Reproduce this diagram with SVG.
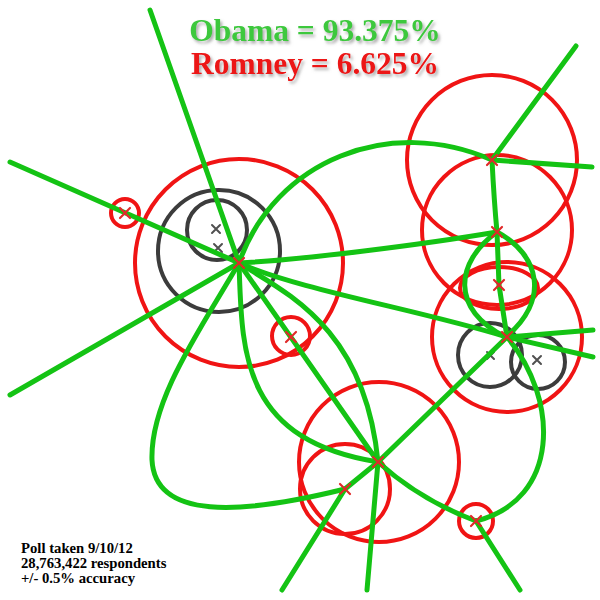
<svg xmlns="http://www.w3.org/2000/svg" width="600" height="600" viewBox="0 0 600 600">
<defs>
<filter id="sh" x="-10%" y="-30%" width="130%" height="180%">
<feDropShadow dx="2" dy="2.5" stdDeviation="1.5" flood-color="#777" flood-opacity="0.6"/>
</filter>
</defs>
<style>
.rc{fill:none;stroke:#f01414;stroke-width:4}
.gc{fill:none;stroke:#3c3c3c;stroke-width:4}
.ln{fill:none;stroke:#14c314;stroke-width:5;stroke-linecap:round}
.rx{stroke:#e02a2a;stroke-width:2.2;stroke-linecap:round}
.bx{stroke:#505050;stroke-width:2;stroke-linecap:round}
.title{font-family:"Liberation Serif",serif;font-weight:bold;font-size:31.5px;text-anchor:middle}
.note{font-family:"Liberation Serif",serif;font-weight:bold;font-size:14.7px;fill:#000}
</style>
<rect width="600" height="600" fill="#fff"/>

<g id="circles">
<g id="nodeA-circle"><circle class="rc" cx="239" cy="263" r="104"/></g>
<g id="nodeI-circle"><circle class="rc" cx="125" cy="213" r="14"/></g>
<g id="nodeJ-circle"><circle class="rc" cx="291" cy="336" r="19"/></g>
<g id="nodeB-circle"><circle class="rc" cx="492" cy="160" r="85"/></g>
<g id="nodeC-circle"><circle class="rc" cx="497" cy="230" r="75"/></g>
<g id="nodeD-circle"><ellipse class="rc" cx="499" cy="288" rx="39" ry="21"/></g>
<g id="nodeE-circle"><circle class="rc" cx="507" cy="337" r="75"/></g>
<g id="nodeF-circle"><circle class="rc" cx="379" cy="462" r="80"/></g>
<g id="nodeG-circle"><circle class="rc" cx="345" cy="489" r="45"/></g>
<g id="nodeH-circle"><circle class="rc" cx="476" cy="521" r="17"/></g>
<g id="gray1"><circle class="gc" cx="219" cy="251" r="61"/></g>
<g id="gray2"><circle class="gc" cx="217" cy="230" r="30"/><path class="bx" d="M212,225 l8,8 M220,225 l-8,8 M214,244 l8,8 M222,244 l-8,8"/></g>
<g id="gray3"><circle class="gc" cx="490" cy="355" r="32"/><path class="bx" d="M487,352 l7,7 M494,352 l-7,7"/></g>
<g id="gray4"><circle class="gc" cx="538" cy="362" r="27"/><path class="bx" d="M533,356 l8,8 M541,356 l-8,8"/></g>
</g>

<g id="connectors">
<path class="ln" d="M150,10 L239,263"/>
<path class="ln" d="M10,162 L239,263"/>
<path class="ln" d="M10,395 L239,263"/>
<path class="ln" d="M239,263 L378,462"/>
<path class="ln" d="M239,263 C290,295 365,330 378,462"/>
<path class="ln" d="M239,263 C242,350 240,440 378,462"/>
<path class="ln" d="M239,263 C200,330 150,400 152,460 C155,520 240,515 345,489"/>
<path class="ln" d="M239,263 C275,160 390,115 492,160"/>
<path class="ln" d="M492,160 L592,167"/>
<path class="ln" d="M492,160 L576,46"/>
<path class="ln" d="M239,263 C300,260 420,245 497,232"/>
<path class="ln" d="M239,263 C300,290 420,310 507,337"/>
<path class="ln" d="M492,160 Q494,200 497,232"/>
<path class="ln" d="M497,232 L499,285 L507,337"/>
<path class="ln" d="M497,232 C455,262 450,310 506,337"/>
<path class="ln" d="M497,232 C540,255 550,300 506,337"/>
<path class="ln" d="M507,337 L593,330"/>
<path class="ln" d="M507,337 L593,357"/>
<path class="ln" d="M507,337 L378,462"/>
<path class="ln" d="M507,337 C560,400 560,500 476,521"/>
<path class="ln" d="M378,462 Q420,500 476,521"/>
<path class="ln" d="M476,521 L520,590"/>
<path class="ln" d="M378,462 L367,590"/>
<path class="ln" d="M378,462 L345,489 L282,590"/>
</g>

<g id="marks">
<g id="nodeA"><path class="rx" d="M234,258 l10,10 M244,258 l-10,10"/></g>
<g id="nodeI"><path class="rx" d="M120,208 l10,10 M130,208 l-10,10"/></g>
<g id="nodeJ"><path class="rx" d="M286,332 l10,10 M296,332 l-10,10"/></g>
<g id="nodeB"><path class="rx" d="M487,155 l10,10 M497,155 l-10,10"/></g>
<g id="nodeC"><path class="rx" d="M492,227 l10,10 M502,227 l-10,10"/></g>
<g id="nodeD"><path class="rx" d="M494,280 l10,10 M504,280 l-10,10"/></g>
<g id="nodeE"><path class="rx" d="M502,332 l10,10 M512,332 l-10,10"/></g>
<g id="nodeF"><path class="rx" d="M373,457 l10,10 M383,457 l-10,10"/></g>
<g id="nodeG"><path class="rx" d="M340,484 l10,10 M350,484 l-10,10"/></g>
<g id="nodeH"><path class="rx" d="M471,516 l10,10 M481,516 l-10,10"/></g>
</g>

<g id="labels">
<text class="title" x="315" y="41" fill="#3cc83c" filter="url(#sh)">Obama = 93.375%</text>
<text class="title" x="315" y="74" fill="#ec1212" filter="url(#sh)">Romney = 6.625%</text>
<text class="note" x="21" y="553">Poll taken 9/10/12</text>
<text class="note" x="21" y="568">28,763,422 respondents</text>
<text class="note" x="21" y="583">+/- 0.5% accuracy</text>
</g>
</svg>
